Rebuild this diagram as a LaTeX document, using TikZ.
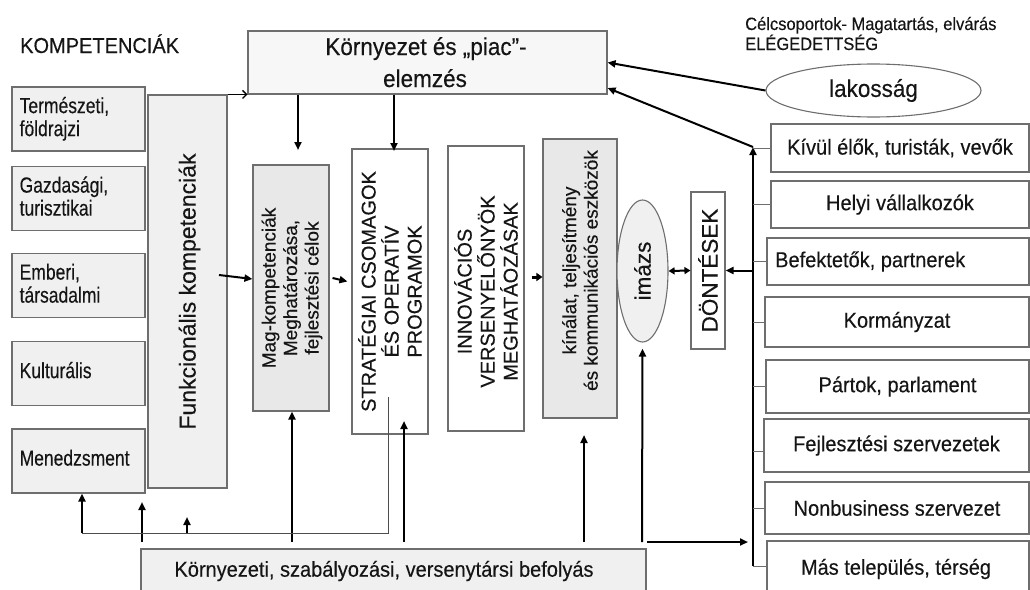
\documentclass[tikz,border=0pt]{standalone}
\usepackage{fontspec}
\usepackage{graphicx}
\setmainfont{Liberation Sans}[FakeBold=0.3]
\usetikzlibrary{arrows.meta,shapes.geometric}
\definecolor{edge}{HTML}{6E6E6E}
\definecolor{paleA}{HTML}{F0F0F0}
\definecolor{paleB}{HTML}{E8E8E8}
\definecolor{paleC}{HTML}{F7F7F7}
\definecolor{ink}{HTML}{151515}
% taller lettering for the competence group labels
\newcommand\tallrows[1]{\scalebox{1}[1.25]{\begin{tabular}{@{}l@{}}#1\end{tabular}}}
\newcommand\tallish[1]{\scalebox{1}[1.08]{#1}}
\begin{document}
\begin{tikzpicture}[x=1pt,y=-1pt,
  box/.style={draw=edge, line width=1.1pt, rectangle, inner sep=0pt, text=ink},
  cell/.style 2 args={box, minimum width=#1, minimum height=#2},
  lbox/.style={cell={133pt}{64pt}, fill=paleA},
  txt/.style={inner sep=0pt, text=ink},
  fA/.style={font=\fontsize{16.5}{20}\selectfont},
  fB/.style={font=\fontsize{17.5}{18.4}\selectfont},
  fC/.style={font=\fontsize{19}{21.5}\selectfont},
  fD/.style={font=\fontsize{20}{22.5}\selectfont},
  fR/.style={font=\fontsize{20}{23}\selectfont},
  fE/.style={font=\fontsize{22.5}{26}\selectfont},
  fF/.style={font=\fontsize{22.5}{30}\selectfont},
  arr/.style={draw=black, line width=2pt, -{Triangle[length=8pt,width=7pt]}},
  arrtwo/.style={draw=black, line width=2pt, {Triangle[length=6pt,width=7pt]}-{Triangle[length=6pt,width=7pt]}},
  thinarr/.style={draw=black, line width=1.3pt, -{Straight Barb[length=4pt,width=8pt]}},
  tick/.style={draw=edge, line width=0.9pt},
  grayline/.style={draw=edge!70!black, line width=1pt}]
\useasboundingbox (0,0) rectangle (1030,589);
\clip (0,0) rectangle (1030,589);

% headings
\node[txt, fD, anchor=base west] (kompt) at (20,53) {\tallish{KOMPETENCIÁK}};
\node[txt, fA, anchor=base west] (cel1) at (745,30) {\tallish{Célcsoportok- Magatartás, elvárás}};
\node[txt, fA, anchor=base west] (cel2) at (745,50) {\tallish{ELÉGEDETTSÉG}};

% environment and market analysis
\node[cell={359pt}{63pt}, fill=paleC] (env) at (427.5,62.5) {};
\node[txt, fF, anchor=base] (envT1) at (426,55) {\tallish{Környezet és „piac”-}};
\node[txt, fF, anchor=base] (envT2) at (425,87) {\tallish{elemzés}};

% competence groups
\node[lbox] (nat) at (78.5,119) {};
\node[lbox] (eco) at (78.5,198.5) {};
\node[lbox] (hum) at (78.5,285.5) {};
\node[lbox] (cul) at (78.5,373.5) {};
\node[lbox] (man) at (78.5,461) {};
\node[txt, fB, anchor=west] (natT) at ([xshift=8pt,yshift=-1pt]nat.west) {\tallrows{Természeti,\\földrajzi}};
\node[txt, fB, anchor=west] (ecoT) at ([xshift=8pt,yshift=-1pt]eco.west) {\tallrows{Gazdasági,\\turisztikai}};
\node[txt, fB, anchor=west] (humT) at ([xshift=8pt,yshift=-1pt]hum.west) {\tallrows{Emberi,\\társadalmi}};
\node[txt, fB, anchor=west] (culT) at ([xshift=8pt]cul.west) {\tallrows{Kulturális}};
\node[txt, fB, anchor=west] (manT) at ([xshift=8pt]man.west) {\tallrows{Menedzsment}};

% functional competences
\node[cell={79pt}{393pt}, fill=paleA] (funk) at (187.5,291.5) {};
\node[txt, font=\fontsize{23}{26}\selectfont, rotate=90] (funkT) at ([xshift=2pt]funk.center) {Funkcionális kompetenciák};

% core competences
\node[cell={76pt}{246pt}, fill=paleB] (mag) at (291,288) {};
\node[txt, fC, rotate=90, align=center] (magT) at ([xshift=1pt]mag.center) {Mag-kompetenciák\\Meghatározása,\\fejlesztési célok};

% strategic packages
\node[cell={76pt}{285pt}, fill=white] (strat) at (390,291.5) {};
\node[txt, fR, rotate=90, align=center] (stratT) at (strat.center) {STRATÉGIAI CSOMAGOK\\ÉS OPERATÍV\\PROGRAMOK};

% innovation
\node[cell={76pt}{285pt}, fill=white] (innov) at (486,288.5) {};
\node[txt, fR, rotate=90, align=center] (innovT) at ([yshift=-3pt]innov.center) {INNOVÁCIÓS\\VERSENYELŐNYÖK\\MEGHATÁOZÁSAK};

% offer and communication
\node[cell={74pt}{279pt}, fill=paleB] (kin) at (580,278.5) {};
\node[txt, fC, rotate=90, align=center] (kinT) at ([yshift=8pt]kin.center) {kínálat, teljesítmény\\és kommunikációs eszközök};

% image and decisions
\node[draw=edge, line width=1.1pt, ellipse, fill=paleA, minimum width=51pt, minimum height=142pt, inner sep=0pt] (imazs) at (642.5,271) {};
\node[txt, fE, rotate=90] (imazsT) at (imazs.center) {imázs};
\node[cell={34pt}{157pt}, fill=white] (dont) at (708,270.5) {};
\node[txt, fE, rotate=90] (dontT) at (dont.center) {DÖNTÉSEK};

% target groups
\node[draw=edge, line width=1.1pt, ellipse, fill=white, minimum width=215pt, minimum height=53pt, inner sep=0pt, fE, text=ink] (lak) at (873.5,90.5) {\tallish{lakosság}};
\node[cell={258pt}{48pt}, fill=white, fD] (kivul) at (900,148) {\tallish{Kívül élők, turisták, vevők}};
\node[cell={258pt}{47pt}, fill=white, fD] (helyi) at (900,204.5) {\tallish{Helyi vállalkozók}};
\node[cell={262pt}{47pt}, fill=white] (befekt) at (898,261.5) {};
\node[txt, fD, anchor=west] (befektT) at (775,261.5) {\tallish{Befektetők, partnerek}};
\node[cell={264pt}{50pt}, fill=white, fD] (korm) at (897,322) {\tallish{Kormányzat}};
\node[cell={263pt}{53pt}, fill=white, fD] (partok) at (897.5,386.5) {\tallish{Pártok, parlament}};
\node[cell={265pt}{53pt}, fill=white, fD] (fejl) at (896.5,445.5) {\tallish{Fejlesztési szervezetek}};
\node[cell={264pt}{52pt}, fill=white, fD] (nonb) at (897,508) {\tallish{Nonbusiness szervezet}};
\node[cell={262pt}{60pt}, fill=white] (mas) at (898,571) {};
\node[txt, fD] (masT) at (896,569) {\tallish{Más település, térség}};

% external influences
\node[cell={505pt}{61pt}, fill=paleA] (bot) at (393.5,579.5) {};
\node[txt, fD] (botT) at (384,571) {\tallish{Környezeti, szabályozási, versenytársi befolyás}};

% free ends of connectors
\coordinate (m1) at (298,150);
\coordinate (s1) at (394,151);
\coordinate (f1) at (219,275);
\coordinate (spT) at (753,147);
\coordinate (spB) at (753,566);
\coordinate (bR) at (647,542);
\coordinate (bS) at (748,542);
\coordinate (b1) at (142,542);
\coordinate (b2) at (292,542);
\coordinate (b3) at (404,542);
\coordinate (b4) at (584,542);
\coordinate (b5) at (642,542);
\coordinate (g1) at (388,397);
\coordinate (g2) at (82,533);
\coordinate (g3) at (187,533);

% flow through the analysis
\draw[thinarr] (funk.north east) -- (funk.north east -| env.west);
\draw[arr] (env.south -| m1) -- (m1);
\draw[arr] (env.south -| s1) -- (s1);
\draw[arr] (f1) -- ([yshift=9pt]mag.west);
\draw[arr] ([xshift=3pt,yshift=10pt]mag.east) -- ([xshift=-4pt,yshift=10pt]strat.west);
\draw[draw=black, line width=3pt, -{Triangle[length=6pt,width=8pt]}] ([xshift=7pt,yshift=11.5pt]innov.east) -- ([yshift=1.5pt]kin.west);
\draw[arrtwo] (imazs.east) -- (dont.west);

% target group connections
\draw[arr] (spB) -- (spT);
\draw[arr] (spT) -- ([yshift=-25.5pt]env.east);
\draw[arr] (lak.west) -- (env.east);
\draw[arr] (dont.east -| spT) -- (dont.east);
\draw[tick] (kivul.west -| spT) -- (kivul.west);
\draw[tick] (helyi.west -| spT) -- (helyi.west);
\draw[tick] (befekt.west -| spT) -- (befekt.west);
\draw[tick] (korm.west -| spT) -- (korm.west);
\draw[tick] (partok.west -| spT) -- (partok.west);
\draw[tick] ([yshift=-6pt]fejl.west -| spT) -- ([yshift=-6pt]fejl.west);
\draw[tick] (nonb.west -| spT) -- (nonb.west);
\draw[tick] (spB) -- (spB -| mas.west);

% external influences
\draw[arr] (bR) -- (bS);
\draw[arr] (b1) -- ++(0,-40);
\draw[arr] (b2) -- (b2 |- mag.south);
\draw[arr] (b3) -- ++(0,-121);
\draw[arr] (b4) -- ++(0,-107);
\draw[arr] (b5) -- ([yshift=-6pt]imazs.south);
\draw[grayline] (g1) |- (g2);
\draw[arr] (g2) -- (g2 |- man.south);
\draw[arr] (g3) -- ++(0,-16);
\end{tikzpicture}
\end{document}
